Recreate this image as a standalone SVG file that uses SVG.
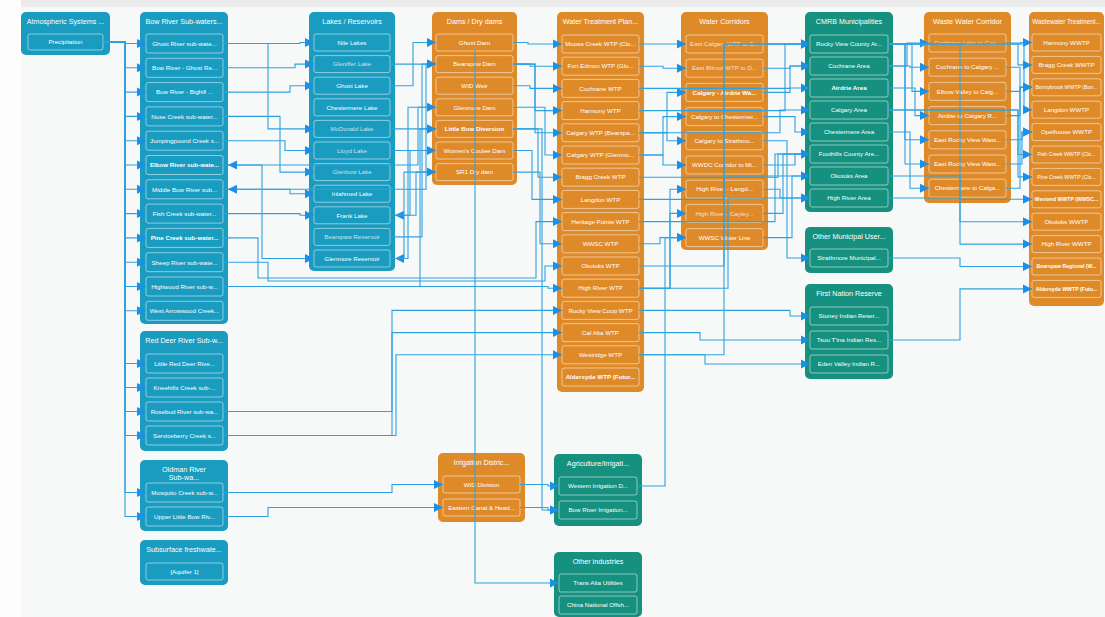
<svg xmlns="http://www.w3.org/2000/svg" width="1105" height="617" viewBox="0 0 1105 617">
<style>
.nb{fill:#1a9bc0}.no{fill:#df8a29}.ng{fill:#16907f}
.ch{fill:none;stroke:#ffffff;stroke-opacity:0.5;stroke-width:1}
.t{font-family:"Liberation Sans",Arial,sans-serif;fill:#fff;font-size:7.2px;text-anchor:middle}
.c{font-family:"Liberation Sans",Arial,sans-serif;fill:#fff;font-size:6.2px;text-anchor:middle}
.s{font-size:5.2px}
.b{font-weight:bold}
.d{fill-opacity:0.75}
.e{fill:none;stroke:#2ea2e0;stroke-width:1.1;marker-end:url(#ar)}
</style>
<defs>
<marker id="ar" viewBox="0 0 10 10" refX="10" refY="5" markerWidth="9" markerHeight="10" markerUnits="userSpaceOnUse" orient="auto">
<path d="M0,0 L10,5 L0,10 z" fill="#1b90e6"/>
</marker>
</defs>
<rect x="0" y="0" width="1105" height="617" fill="#fdfdfd"/>
<rect x="21" y="7" width="1084" height="610" fill="#f7f8f8"/>
<rect x="21" y="0" width="1084" height="7" fill="#ececec"/>

<g id="atmospheric">
<rect class="nb" x="21" y="12" width="89" height="43" rx="5"/>
<text class="t" x="65.5" y="24">Atmospheric Systems ...</text>
<rect class="ch" x="28" y="34" width="75" height="16" rx="2"/>
<text class="c" x="65.5" y="44.2">Precipitation</text>
</g>

<g id="bow-river">
<rect class="nb" x="140" y="12" width="88" height="312" rx="5"/>
<text class="t" x="184" y="24">Bow River Sub-waters...</text>
<rect class="ch" x="146" y="34" width="77" height="19" rx="2"/><text class="c" x="184.5" y="45.8">Ghost River sub-wate...</text>
<rect class="ch" x="146" y="58.3" width="77" height="19" rx="2"/><text class="c" x="184.5" y="70.1">Bow River - Ghost Re...</text>
<rect class="ch" x="146" y="82.6" width="77" height="19" rx="2"/><text class="c" x="184.5" y="94.4">Bow River - Bighill ...</text>
<rect class="ch" x="146" y="106.9" width="77" height="19" rx="2"/><text class="c" x="184.5" y="118.7">Nose Creek sub-water...</text>
<rect class="ch" x="146" y="131.2" width="77" height="19" rx="2"/><text class="c" x="184.5" y="143">Jumpingpound Creek s...</text>
<rect class="ch" x="146" y="155.5" width="77" height="19" rx="2"/><text class="c b" x="184.5" y="167.3">Elbow River sub-wate...</text>
<rect class="ch" x="146" y="179.8" width="77" height="19" rx="2"/><text class="c" x="184.5" y="191.6">Middle Bow River sub...</text>
<rect class="ch" x="146" y="204.1" width="77" height="19" rx="2"/><text class="c" x="184.5" y="215.9">Fish Creek sub-water...</text>
<rect class="ch" x="146" y="228.4" width="77" height="19" rx="2"/><text class="c b" x="184.5" y="240.2">Pine Creek sub-water...</text>
<rect class="ch" x="146" y="252.7" width="77" height="19" rx="2"/><text class="c" x="184.5" y="264.5">Sheep River sub-wate...</text>
<rect class="ch" x="146" y="277" width="77" height="19" rx="2"/><text class="c" x="184.5" y="288.8">Highwood River sub-w...</text>
<rect class="ch" x="146" y="301.3" width="77" height="19" rx="2"/><text class="c" x="184.5" y="313.1">West Arrowwood Creek...</text>
</g>

<g id="red-deer">
<rect class="nb" x="140" y="331" width="88" height="120" rx="5"/>
<text class="t" x="184" y="343">Red Deer River Sub-w...</text>
<rect class="ch" x="146" y="354" width="77" height="19" rx="2"/><text class="c" x="184.5" y="365.8">Little Red Deer Rive...</text>
<rect class="ch" x="146" y="378" width="77" height="19" rx="2"/><text class="c" x="184.5" y="389.8">Kneehills Creek sub-...</text>
<rect class="ch" x="146" y="402" width="77" height="19" rx="2"/><text class="c" x="184.5" y="413.8">Rosebud River sub-wa...</text>
<rect class="ch" x="146" y="426" width="77" height="19" rx="2"/><text class="c" x="184.5" y="437.8">Serviceberry Creek s...</text>
</g>

<g id="oldman">
<rect class="nb" x="140" y="460" width="88" height="71" rx="5"/>
<text class="t" x="184" y="472">Oldman River</text>
<text class="t" x="184" y="480">Sub-wa...</text>
<rect class="ch" x="146" y="483" width="77" height="19" rx="2"/><text class="c" x="184.5" y="494.8">Mosquito Creek sub-w...</text>
<rect class="ch" x="146" y="507" width="77" height="19" rx="2"/><text class="c" x="184.5" y="518.8">Upper Little Bow Riv...</text>
</g>

<g id="subsurface">
<rect class="nb" x="140" y="540" width="88" height="45" rx="5"/>
<text class="t" x="184" y="552">Subsurface freshwate...</text>
<rect class="ch" x="146" y="563" width="77" height="17" rx="2"/><text class="c" x="184.5" y="573.5">[Aquifer 1]</text>
</g>

<g id="lakes">
<rect class="nb" x="309" y="12" width="86" height="259" rx="5"/>
<text class="t" x="352" y="24">Lakes / Reservoirs</text>
<rect class="ch" x="314" y="34" width="76" height="17" rx="2"/><text class="c" x="352" y="44.8">Nile Lakes</text>
<rect class="ch" x="314" y="55.6" width="76" height="17" rx="2"/><text class="c d" x="352" y="66.4">Gleniffer Lake</text>
<rect class="ch" x="314" y="77.2" width="76" height="17" rx="2"/><text class="c" x="352" y="88">Ghost Lake</text>
<rect class="ch" x="314" y="98.8" width="76" height="17" rx="2"/><text class="c" x="352" y="109.6">Chestermere Lake</text>
<rect class="ch" x="314" y="120.4" width="76" height="17" rx="2"/><text class="c d" x="352" y="131.2">McDonald Lake</text>
<rect class="ch" x="314" y="142" width="76" height="17" rx="2"/><text class="c d" x="352" y="152.8">Lloyd Lake</text>
<rect class="ch" x="314" y="163.6" width="76" height="17" rx="2"/><text class="c d" x="352" y="174.4">Glenbow Lake</text>
<rect class="ch" x="314" y="185.2" width="76" height="17" rx="2"/><text class="c" x="352" y="196">Inlahmed Lake</text>
<rect class="ch" x="314" y="206.8" width="76" height="17" rx="2"/><text class="c" x="352" y="217.6">Frank Lake</text>
<rect class="ch" x="314" y="228.4" width="76" height="17" rx="2"/><text class="c d" x="352" y="239.2">Bearspaw Reservoir</text>
<rect class="ch" x="314" y="250" width="76" height="17" rx="2"/><text class="c" x="352" y="260.8">Glenmore Reservoir</text>
</g>

<g id="dams">
<rect class="no" x="432" y="12" width="85" height="173" rx="5"/>
<text class="t" x="474.5" y="24">Dams / Dry dams</text>
<rect class="ch" x="436" y="34" width="77" height="17" rx="2"/><text class="c" x="474.5" y="44.8">Ghost Dam</text>
<rect class="ch" x="436" y="55.6" width="77" height="17" rx="2"/><text class="c" x="474.5" y="66.4">Bearspaw Dam</text>
<rect class="ch" x="436" y="77.2" width="77" height="17" rx="2"/><text class="c" x="474.5" y="88">WID Weir</text>
<rect class="ch" x="436" y="98.8" width="77" height="17" rx="2"/><text class="c" x="474.5" y="109.6">Glenmore Dam</text>
<rect class="ch" x="436" y="120.4" width="77" height="17" rx="2"/><text class="c b" x="474.5" y="131.2">Little Bow Diversion</text>
<rect class="ch" x="436" y="142" width="77" height="17" rx="2"/><text class="c" x="474.5" y="152.8">Women's Coulee Dam</text>
<rect class="ch" x="436" y="163.6" width="77" height="17" rx="2"/><text class="c" x="474.5" y="174.4">SR1 Dry dam</text>
</g>

<g id="wtp">
<rect class="no" x="557" y="12" width="87" height="380" rx="5"/>
<text class="t" x="600.5" y="24">Water Treatment Plan...</text>
<rect class="ch" x="562" y="35" width="77" height="18" rx="2"/><text class="c" x="600.5" y="46.2">Moose Creek WTP (Clo...</text>
<rect class="ch" x="562" y="57.2" width="77" height="18" rx="2"/><text class="c" x="600.5" y="68.4">Fort Edmon WTP (Glo...</text>
<rect class="ch" x="562" y="79.4" width="77" height="18" rx="2"/><text class="c" x="600.5" y="90.6">Cochrane WTP</text>
<rect class="ch" x="562" y="101.6" width="77" height="18" rx="2"/><text class="c" x="600.5" y="112.8">Harmony WTP</text>
<rect class="ch" x="562" y="123.8" width="77" height="18" rx="2"/><text class="c" x="600.5" y="135">Calgary WTP (Bearspa...</text>
<rect class="ch" x="562" y="146" width="77" height="18" rx="2"/><text class="c" x="600.5" y="157.2">Calgary WTP (Glenmo...</text>
<rect class="ch" x="562" y="168.2" width="77" height="18" rx="2"/><text class="c" x="600.5" y="179.4">Bragg Creek WTP</text>
<rect class="ch" x="562" y="190.4" width="77" height="18" rx="2"/><text class="c" x="600.5" y="201.6">Langdon WTP</text>
<rect class="ch" x="562" y="212.6" width="77" height="18" rx="2"/><text class="c" x="600.5" y="223.8">Heritage Pointe WTP</text>
<rect class="ch" x="562" y="234.8" width="77" height="18" rx="2"/><text class="c" x="600.5" y="246">WWSC WTP</text>
<rect class="ch" x="562" y="257" width="77" height="18" rx="2"/><text class="c" x="600.5" y="268.2">Okotoks WTP</text>
<rect class="ch" x="562" y="279.2" width="77" height="18" rx="2"/><text class="c" x="600.5" y="290.4">High River WTP</text>
<rect class="ch" x="562" y="301.4" width="77" height="18" rx="2"/><text class="c" x="600.5" y="312.6">Rocky View Coop WTP</text>
<rect class="ch" x="562" y="323.6" width="77" height="18" rx="2"/><text class="c" x="600.5" y="334.8">Cal Alta WTP</text>
<rect class="ch" x="562" y="345.8" width="77" height="18" rx="2"/><text class="c" x="600.5" y="357">Westridge WTP</text>
<rect class="ch" x="562" y="368" width="77" height="18" rx="2"/><text class="c b" x="600.5" y="379.2">Aldersyde WTP (Futur...</text>
</g>

<g id="water-corridors">
<rect class="no" x="681" y="12" width="87" height="238" rx="5"/>
<text class="t" x="724.5" y="24">Water Corridors</text>
<rect class="ch" x="686" y="35" width="77" height="18" rx="2"/><text class="c d" x="724.5" y="46.2">East Calgary WTP to C...</text>
<rect class="ch" x="686" y="59.2" width="77" height="18" rx="2"/><text class="c d" x="724.5" y="70.4">East Bilmor WTP to D...</text>
<rect class="ch" x="686" y="83.4" width="77" height="18" rx="2"/><text class="c b" x="724.5" y="94.6">Calgary - Airdrie Wa...</text>
<rect class="ch" x="686" y="107.6" width="77" height="18" rx="2"/><text class="c" x="724.5" y="118.8">Calgary to Chestermer...</text>
<rect class="ch" x="686" y="131.8" width="77" height="18" rx="2"/><text class="c" x="724.5" y="143">Calgary to Strathmo...</text>
<rect class="ch" x="686" y="156" width="77" height="18" rx="2"/><text class="c" x="724.5" y="167.2">WWDC Corridor to Mi...</text>
<rect class="ch" x="686" y="180.2" width="77" height="18" rx="2"/><text class="c" x="724.5" y="191.4">High River - Langd...</text>
<rect class="ch" x="686" y="204.4" width="77" height="18" rx="2"/><text class="c d" x="724.5" y="215.6">High River - Cayley...</text>
<rect class="ch" x="686" y="228.6" width="77" height="18" rx="2"/><text class="c" x="724.5" y="239.8">WWSC Water Line</text>
</g>

<g id="cmrb">
<rect class="ng" x="805" y="12" width="88" height="200" rx="5"/>
<text class="t" x="849" y="24">CMRB Municipalities</text>
<rect class="ch" x="810" y="35" width="78" height="18" rx="2"/><text class="c" x="849" y="46.2">Rocky View County Ar...</text>
<rect class="ch" x="810" y="57" width="78" height="18" rx="2"/><text class="c" x="849" y="68.2">Cochrane Area</text>
<rect class="ch" x="810" y="79" width="78" height="18" rx="2"/><text class="c b" x="849" y="90.2">Airdrie Area</text>
<rect class="ch" x="810" y="101" width="78" height="18" rx="2"/><text class="c" x="849" y="112.2">Calgary Area</text>
<rect class="ch" x="810" y="123" width="78" height="18" rx="2"/><text class="c" x="849" y="134.2">Chestermere Area</text>
<rect class="ch" x="810" y="145" width="78" height="18" rx="2"/><text class="c" x="849" y="156.2">Foothills County Are...</text>
<rect class="ch" x="810" y="167" width="78" height="18" rx="2"/><text class="c" x="849" y="178.2">Okotoks Area</text>
<rect class="ch" x="810" y="189" width="78" height="18" rx="2"/><text class="c" x="849" y="200.2">High River Area</text>
</g>

<g id="other-municipal">
<rect class="ng" x="805" y="227" width="88" height="46" rx="5"/>
<text class="t" x="849" y="239">Other Municipal User...</text>
<rect class="ch" x="810" y="249" width="78" height="18" rx="2"/><text class="c" x="849" y="260.2">Strathmore Municipal...</text>
</g>

<g id="first-nation">
<rect class="ng" x="805" y="284" width="88" height="95" rx="5"/>
<text class="t" x="849" y="296">First Nation Reserve</text>
<rect class="ch" x="810" y="307" width="78" height="18" rx="2"/><text class="c" x="849" y="318.2">Stoney Indian Reser...</text>
<rect class="ch" x="810" y="331" width="78" height="18" rx="2"/><text class="c" x="849" y="342.2">Tsuu T'ina Indian Res...</text>
<rect class="ch" x="810" y="355" width="78" height="18" rx="2"/><text class="c" x="849" y="366.2">Eden Valley Indian R...</text>
</g>

<g id="waste-water-corridor">
<rect class="no" x="924" y="12" width="87" height="191" rx="5"/>
<text class="t" x="967.5" y="24">Waste Water Corridor</text>
<rect class="ch" x="929" y="34" width="77" height="18" rx="2"/><text class="c d" x="967.5" y="45.2">Cochrane Lake to Coc...</text>
<rect class="ch" x="929" y="58.2" width="77" height="18" rx="2"/><text class="c" x="967.5" y="69.4">Cochrane to Calgary ...</text>
<rect class="ch" x="929" y="82.4" width="77" height="18" rx="2"/><text class="c" x="967.5" y="93.6">Elbow Valley to Calg...</text>
<rect class="ch" x="929" y="106.6" width="77" height="18" rx="2"/><text class="c" x="967.5" y="117.8">Airdrie to Calgary R...</text>
<rect class="ch" x="929" y="130.8" width="77" height="18" rx="2"/><text class="c" x="967.5" y="142">East Rocky View Wast...</text>
<rect class="ch" x="929" y="155" width="77" height="18" rx="2"/><text class="c" x="967.5" y="166.2">East Rocky View Wast...</text>
<rect class="ch" x="929" y="179.2" width="77" height="18" rx="2"/><text class="c" x="967.5" y="190.4">Chestermere to Calga...</text>
</g>

<g id="wwtp">
<rect class="no" x="1029" y="12" width="75" height="294" rx="5"/>
<text class="t" x="1066.5" y="24" style="font-size:6.3px">Wastewater Treatment...</text>
<rect class="ch" x="1032" y="34" width="69" height="17" rx="2"/><text class="c" x="1066.5" y="44.8">Harmony WWTP</text>
<rect class="ch" x="1032" y="56.4" width="69" height="17" rx="2"/><text class="c" x="1066.5" y="67.2">Bragg Creek WWTP</text>
<rect class="ch" x="1032" y="78.8" width="69" height="17" rx="2"/><text class="c s" x="1066.5" y="89.2">Bonnybrook WWTP (Bon...</text>
<rect class="ch" x="1032" y="101.2" width="69" height="17" rx="2"/><text class="c" x="1066.5" y="112">Langdon WWTP</text>
<rect class="ch" x="1032" y="123.6" width="69" height="17" rx="2"/><text class="c" x="1066.5" y="134.4">Opelhouse WWTP</text>
<rect class="ch" x="1032" y="146" width="69" height="17" rx="2"/><text class="c s" x="1066.5" y="156.4">Fish Creek WWTP (Clo...</text>
<rect class="ch" x="1032" y="168.4" width="69" height="17" rx="2"/><text class="c s" x="1066.5" y="178.8">Pine Creek WWTP (Clo...</text>
<rect class="ch" x="1032" y="190.8" width="69" height="17" rx="2"/><text class="c s b" x="1066.5" y="201.2">Westend WWTP (WWSC...</text>
<rect class="ch" x="1032" y="213.2" width="69" height="17" rx="2"/><text class="c" x="1066.5" y="224">Okotoks WWTP</text>
<rect class="ch" x="1032" y="235.6" width="69" height="17" rx="2"/><text class="c" x="1066.5" y="246.4">High River WWTP</text>
<rect class="ch" x="1032" y="258" width="69" height="17" rx="2"/><text class="c s b" x="1066.5" y="268.4">Bearspaw Regional (W...</text>
<rect class="ch" x="1032" y="280.4" width="69" height="17" rx="2"/><text class="c s b" x="1066.5" y="290.8">Aldersyde WWTP (Futu...</text>
</g>

<g id="irrigation-districts">
<rect class="no" x="438" y="453" width="87" height="69" rx="5"/>
<text class="t" x="481.5" y="465">Irrigation Distric...</text>
<rect class="ch" x="443" y="476" width="77" height="17" rx="2"/><text class="c" x="481.5" y="486.8">WID Division</text>
<rect class="ch" x="443" y="499" width="77" height="17" rx="2"/><text class="c" x="481.5" y="509.8">Eastern Canal &amp; Head...</text>
</g>

<g id="agriculture">
<rect class="ng" x="554" y="454" width="88" height="72" rx="5"/>
<text class="t" x="598" y="466">Agriculture/Irrigati...</text>
<rect class="ch" x="559" y="477" width="78" height="18" rx="2"/><text class="c" x="598" y="488.2">Western Irrigation D...</text>
<rect class="ch" x="559" y="501" width="78" height="18" rx="2"/><text class="c" x="598" y="512.2">Bow River Irrigation...</text>
</g>

<g id="other-industries">
<rect class="ng" x="554" y="552" width="88" height="65" rx="5"/>
<text class="t" x="598" y="564">Other industries</text>
<rect class="ch" x="559" y="574" width="78" height="18" rx="2"/><text class="c" x="598" y="585.2">Trans Alta Utilities</text>
<rect class="ch" x="559" y="596" width="78" height="18" rx="2"/><text class="c" x="598" y="607.2">China National Offsh...</text>
</g>

<g id="connectors">
<path class="e" d="M103 42H125V43.5H146"/>
<path class="e" d="M103 42H125V67.8H146"/>
<path class="e" d="M103 42H125V92.1H146"/>
<path class="e" d="M103 42H125V116.4H146"/>
<path class="e" d="M103 42H125V140.7H146"/>
<path class="e" d="M103 42H125V165H146"/>
<path class="e" d="M103 42H125V189.3H146"/>
<path class="e" d="M103 42H125V213.6H146"/>
<path class="e" d="M103 42H125V237.9H146"/>
<path class="e" d="M103 42H125V262.2H146"/>
<path class="e" d="M103 42H125V286.5H146"/>
<path class="e" d="M103 42H125V310.8H146"/>
<path class="e" d="M103 42H125V363.5H146"/>
<path class="e" d="M103 42H125V387.5H146"/>
<path class="e" d="M103 42H125V411.5H146"/>
<path class="e" d="M103 42H125V435.5H146"/>
<path class="e" d="M103 42H125V492.5H146"/>
<path class="e" d="M103 42H125V516.5H146"/>

<path class="e" d="M223 43.5H300V42.5H314"/>
<path class="e" d="M223 43.5H268V128.9H314"/>
<path class="e" d="M223 67.8H295V64.1H314"/>
<path class="e" d="M223 92.1H290V85.7H314"/>
<path class="e" d="M223 116.4H280V172.1H314"/>
<path class="e" d="M223 140.7H285V150.5H314"/>
<path class="e" d="M223 165H262V258.5H314"/>
<path class="e" d="M223 189.3H290V193.7H314"/>
<path class="e" d="M223 213.6H300V215.3H314"/>
<path class="e" d="M223 237.9H258V278H536V221.6H562"/>
<path class="e" d="M223 262.2H268V281H545V266H562"/>
<path class="e" d="M223 286.5H548V288.2H562"/>
<path class="e" d="M223 286.5H420V128.9H436"/>
<path class="e" d="M223 411.5H392V310.4H562"/>
<path class="e" d="M223 435.5H392V332.6H562"/>
<path class="e" d="M223 435.5H396V354.8H562"/>
<path class="e" d="M223 492.5H392V484.5H443"/>
<path class="e" d="M223 516.5H268V507.5H443"/>

<path class="e" d="M436 64.1H426V189.3H228"/>
<path class="e" d="M436 107.3H418V165H228"/>
<path class="e" d="M436 150.5H410V215.3H395"/>
<path class="e" d="M436 172.1H404V258.5H395"/>

<path class="e" d="M390 85.7H413V42.5H436"/>
<path class="e" d="M390 64.1H436"/>
<path class="e" d="M390 236.9H422V64.1H436"/>
<path class="e" d="M390 258.5H408V107.3H436"/>
<path class="e" d="M390 128.9H436"/>
<path class="e" d="M390 150.5H436"/>
<path class="e" d="M390 215.3H416V172.1H436"/>

<path class="e" d="M513 42.5H528V44H562"/>
<path class="e" d="M513 64.1H530V66.2H562"/>
<path class="e" d="M513 64.1H535V110.6H562"/>
<path class="e" d="M513 64.1H535V132.8H562"/>
<path class="e" d="M513 85.7H530V88.4H562"/>
<path class="e" d="M513 107.3H545V155H562"/>
<path class="e" d="M513 128.9H538V177.2H562"/>
<path class="e" d="M513 150.5H532V199.4H562"/>
<path class="e" d="M513 172.1H540V243.8H562"/>
<path class="e" d="M513 128.9H542V510H559"/>
<path class="e" d="M475 50.5V583H559"/>

<path class="e" d="M520 484.5H548V486H559"/>
<path class="e" d="M520 507.5H548V510H559"/>
<path class="e" d="M637 486H665V237.6H686"/>

<path class="e" d="M639 44H686"/>
<path class="e" d="M639 66.2H663V68.2H686"/>
<path class="e" d="M639 132.8H667V92.4H686"/>
<path class="e" d="M639 155H663V116.6H686"/>
<path class="e" d="M639 132.8H667V140.8H686"/>
<path class="e" d="M639 155H663V165H686"/>
<path class="e" d="M639 288.2H670V189.2H686"/>
<path class="e" d="M639 288.2H670V213.4H686"/>
<path class="e" d="M639 243.8H660V237.6H686"/>

<path class="e" d="M639 88.4H790V66H810"/>
<path class="e" d="M639 110.6H785V44H810"/>
<path class="e" d="M639 132.8H780V110H810"/>
<path class="e" d="M639 266H724V176H810"/>
<path class="e" d="M639 354.8H724V44H810"/>
<path class="e" d="M639 199.4H724V44H810"/>
<path class="e" d="M639 221.6H775V154H810"/>
<path class="e" d="M639 288.2H728V198H810"/>
<path class="e" d="M639 177.2H778V154H810"/>
<path class="e" d="M639 310.4H790V316H810"/>
<path class="e" d="M639 332.6H700V340H810"/>
<path class="e" d="M639 354.8H705V364H810"/>

<path class="e" d="M763 44H810"/>
<path class="e" d="M763 68.2H790V66H810"/>
<path class="e" d="M763 92.4H790V88H810"/>
<path class="e" d="M763 116.6H795V132H810"/>
<path class="e" d="M763 140.8H787V258H810"/>
<path class="e" d="M763 165H795V154H810"/>
<path class="e" d="M763 189.2H780V198H810"/>
<path class="e" d="M763 213.4H783V154H810"/>
<path class="e" d="M763 237.6H792V176H810"/>

<path class="e" d="M888 66H907V43H929"/>
<path class="e" d="M888 66H910V67.2H929"/>
<path class="e" d="M888 44H912V91.4H929"/>
<path class="e" d="M888 88H915V115.6H929"/>
<path class="e" d="M888 44H905V139.8H929"/>
<path class="e" d="M888 44H905V164H929"/>
<path class="e" d="M888 132H910V188.2H929"/>

<path class="e" d="M888 44H1020V42.5H1032"/>
<path class="e" d="M888 44H1024V109.7H1032"/>
<path class="e" d="M888 44H960V199.3H1032"/>
<path class="e" d="M888 110H1018V154.5H1032"/>
<path class="e" d="M888 110H1018V176.9H1032"/>
<path class="e" d="M888 176H960V221.7H1032"/>
<path class="e" d="M888 198H960V244.1H1032"/>
<path class="e" d="M888 258H960V266.5H1032"/>
<path class="e" d="M888 340H960V288.9H1032"/>

<path class="e" d="M1006 43H1018V64.9H1032"/>
<path class="e" d="M1006 67.2H1020V87.3H1032"/>
<path class="e" d="M1006 91.4H1020V87.3H1032"/>
<path class="e" d="M1006 115.6H1020V87.3H1032"/>
<path class="e" d="M1006 139.8H1022V132.1H1032"/>
<path class="e" d="M1006 164H1022V132.1H1032"/>
<path class="e" d="M1006 188.2H1020V87.3H1032"/>
</g>
</svg>
